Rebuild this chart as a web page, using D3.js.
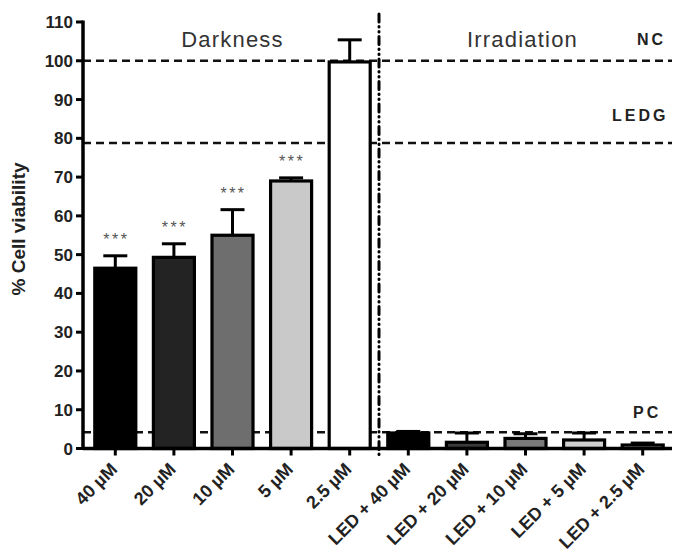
<!DOCTYPE html>
<html lang="en">
<head>
  <meta charset="UTF-8">
  <title>Cell viability</title>
  <script src="https://d3js.org/d3.v7.min.js"></script>
  <style>
    body { margin: 0; padding: 0; background: #fff; }
    svg { display: block; font-family: "Liberation Sans", Arial, sans-serif; }
    .tick-label { font-size: 17px; font-weight: bold; fill: #222; }
    .cat-label { font-size: 18px; font-weight: bold; fill: #222; }
    .ref-label { font-size: 16px; font-weight: bold; fill: #222; letter-spacing: 3px; }
    .group-label { font-size: 22px; fill: #333; letter-spacing: 1.2px; }
  </style>
</head>
<body>
<div id="chart"></div>
<script>
  // data
  const categories = ['40 µM', '20 µM', '10 µM', '5 µM', '2.5 µM',
    'LED + 40 µM', 'LED + 20 µM', 'LED + 10 µM', 'LED + 5 µM', 'LED + 2.5 µM'];
  const means = [46.5, 49.3, 55.0, 69.0, 99.7, 4.0, 1.6, 2.6, 2.2, 0.9];
  const errors = [3.2, 3.5, 6.6, 0.8, 5.7, 0.4, 2.4, 1.2, 1.8, 0.5];
  const fills = ['#000000', '#232323', '#6e6e6e', '#c9c9c9', '#ffffff',
    '#000000', '#3a3a3a', '#7a7a7a', '#d0d0d0', '#ffffff'];
  const stars = ['***', '***', '***', '***', '', '', '', '', '', ''];
  const yTicks = [0, 10, 20, 30, 40, 50, 60, 70, 80, 90, 100, 110];
  const refLines = [
    { name: 'NC', value: 100 },
    { name: 'LEDG', value: 78.8 },
    { name: 'PC', value: 4.2 }
  ];
  const groups = ['Darkness', 'Irradiation'];

  const width = 678, height = 553;
  const svg = d3.select('#chart').append('svg')
    .attr('width', width).attr('height', height);

  const axisX = 83, axisRight = 672, y0 = 448.5, yTop = 22;

  const y = d3.scaleLinear().domain([0, 110]).range([y0, yTop]);
  const x = d3.scaleBand().domain(categories)
    .range([86, axisRight]).paddingInner(0.3).paddingOuter(0.15);
  const cx = d => x(d) + x.bandwidth() / 2;

  // reference dashed lines
  svg.append('g').selectAll('line')
    .data(refLines).enter().append('line')
    .attr('x1', axisX).attr('x2', axisRight)
    .attr('y1', d => y(d.value)).attr('y2', d => y(d.value))
    .attr('stroke', '#111').attr('stroke-width', 2.4)
    .attr('stroke-dasharray', '8,5');

  // bars
  svg.append('g').selectAll('rect')
    .data(categories).enter().append('rect')
    .attr('x', d => x(d))
    .attr('y', (d, i) => y(means[i]))
    .attr('width', x.bandwidth())
    .attr('height', (d, i) => y0 - y(means[i]))
    .attr('fill', (d, i) => fills[i])
    .attr('stroke', '#000').attr('stroke-width', 3.2);

  // error bars (upper only)
  const eb = svg.append('g').selectAll('g')
    .data(categories).enter().append('g');
  eb.append('line')
    .attr('x1', cx).attr('x2', cx)
    .attr('y1', (d, i) => y(means[i]))
    .attr('y2', (d, i) => y(means[i] + errors[i]))
    .attr('stroke', '#000').attr('stroke-width', 3);
  eb.append('line')
    .attr('x1', d => cx(d) - 12)
    .attr('x2', d => cx(d) + 12)
    .attr('y1', (d, i) => y(means[i] + errors[i]))
    .attr('y2', (d, i) => y(means[i] + errors[i]))
    .attr('stroke', '#000').attr('stroke-width', 3);

  // significance stars
  svg.append('g').selectAll('text')
    .data(categories).enter().append('text')
    .attr('x', d => cx(d) + 1)
    .attr('y', (d, i) => y(means[i] + errors[i]) - 11)
    .attr('text-anchor', 'middle')
    .attr('font-size', 16).attr('fill', '#555')
    .attr('letter-spacing', 2.5)
    .text((d, i) => stars[i]);

  // divider between darkness and irradiation
  const divX = cx(categories[4]) + x.step() / 2;
  svg.append('line')
    .attr('x1', divX).attr('x2', divX)
    .attr('y1', 14).attr('y2', y0 + 7)
    .attr('stroke', '#000').attr('stroke-width', 3)
    .attr('stroke-linecap', 'round')
    .attr('stroke-dasharray', '8,4.5,0.5,4.5,0.5,4.5');

  // y axis
  const yAxis = svg.append('g');
  yAxis.append('line')
    .attr('x1', axisX).attr('x2', axisX)
    .attr('y1', yTop - 1.5).attr('y2', y0 + 1.5)
    .attr('stroke', '#000').attr('stroke-width', 3.5);
  yAxis.selectAll('.yt').data(yTicks).enter().append('line')
    .attr('x1', axisX - 7).attr('x2', axisX)
    .attr('y1', d => y(d)).attr('y2', d => y(d))
    .attr('stroke', '#000').attr('stroke-width', 3);
  yAxis.selectAll('text').data(yTicks).enter().append('text')
    .attr('class', 'tick-label')
    .attr('x', axisX - 10).attr('y', d => y(d) + 6)
    .attr('text-anchor', 'end')
    .text(d => d);

  // x axis
  const xAxis = svg.append('g');
  xAxis.append('line')
    .attr('x1', axisX).attr('x2', axisRight)
    .attr('y1', y0).attr('y2', y0)
    .attr('stroke', '#000').attr('stroke-width', 3.5);
  xAxis.selectAll('.xt').data(categories).enter().append('line')
    .attr('x1', cx).attr('x2', cx)
    .attr('y1', y0).attr('y2', y0 + 7)
    .attr('stroke', '#000').attr('stroke-width', 3);
  xAxis.selectAll('text').data(categories).enter().append('text')
    .attr('class', 'cat-label')
    .attr('text-anchor', 'end')
    .attr('transform', d => `translate(${cx(d) + 3},${y0 + 22}) rotate(-45)`)
    .text(d => d);

  // y axis title
  svg.append('text')
    .attr('transform', `translate(25,229) rotate(-90)`)
    .attr('text-anchor', 'middle')
    .attr('font-size', 19).attr('font-weight', 'bold').attr('fill', '#222')
    .text('% Cell viability');

  // group titles
  const groupCenters = [
    (x(categories[0]) + x(categories[4]) + x.bandwidth()) / 2,
    (x(categories[5]) + x(categories[9]) + x.bandwidth()) / 2 - 3
  ];
  svg.append('g').selectAll('text')
    .data(groups).enter().append('text')
    .attr('class', 'group-label')
    .attr('x', (d, i) => groupCenters[i])
    .attr('y', 47)
    .attr('text-anchor', 'middle')
    .text(d => d);

  // reference labels
  const refLabelX = { NC: 637, LEDG: 612, PC: 633 };
  const refLabelGap = { NC: 16, LEDG: 22, PC: 14 };
  svg.append('g').selectAll('text')
    .data(refLines).enter().append('text')
    .attr('class', 'ref-label')
    .attr('x', d => refLabelX[d.name])
    .attr('y', d => y(d.value) - refLabelGap[d.name])
    .attr('letter-spacing', d => d.name === 'LEDG' ? 4.5 : 3)
    .text(d => d.name);
</script>
</body>
</html>
